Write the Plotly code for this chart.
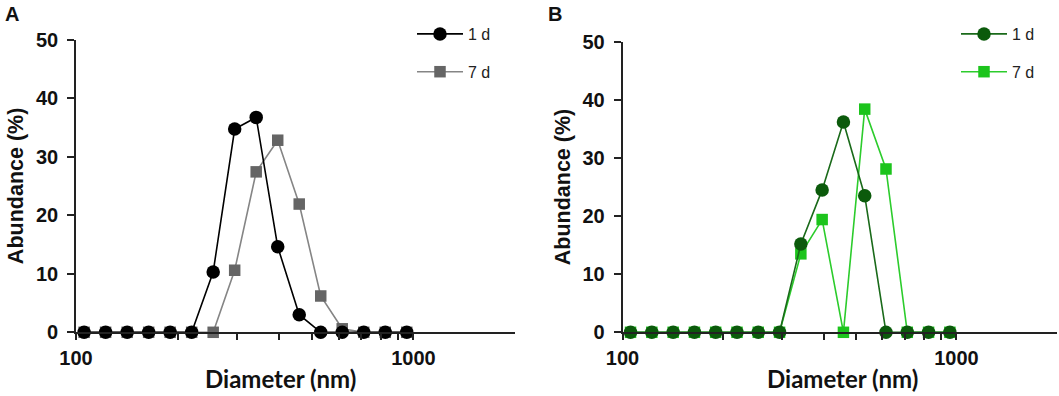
import plotly.graph_objects as go

# ---- data ----
diameter_nm = [105.7, 122.4, 141.8, 164.2, 190.1, 220.2, 255.0, 295.3,
               342.0, 396.1, 458.7, 531.2, 615.1, 712.4, 825.0, 955.4]
a_1d = [0, 0, 0, 0, 0, 0, 10.3, 34.7, 36.7, 14.6, 3.0, 0, 0, 0, 0, 0]
a_7d = [0, 0, 0, 0, 0, 0, 0, 10.6, 27.4, 32.8, 21.9, 6.2, 0.6, 0, 0, 0]
b_1d = [0, 0, 0, 0, 0, 0, 0, 0, 15.2, 24.5, 36.2, 23.5, 0, 0, 0, 0]
b_7d = [0, 0, 0, 0, 0, 0, 0, 0, 13.5, 19.4, 0, 38.4, 28.1, 0, 0, 0]

series_names = ["1 d", "7 d"]
x_tick_vals = [100, 200, 300, 400, 500, 600, 700, 800, 900, 1000]
x_tick_text = ["100", "", "", "", "", "", "", "", "", "1000"]
y_tick_vals = [0, 10, 20, 30, 40, 50]
x_title = "Diameter (nm)"
y_title = "Abundance (%)"
panel_labels = ["A", "B"]

W, H = 1059, 396
TICK_FONT = dict(family="Liberation Sans, Arial", size=20, color="#111", weight="bold")
AXIS_COLOR = "#222"

fig = go.Figure()

def add(x, y, name, color, line_color, symbol, size, xa, ya, legend, rank):
    fig.add_trace(go.Scatter(
        x=x, y=y, name=name, mode="lines+markers",
        line=dict(color=line_color, width=1.6),
        marker=dict(color=color, symbol=symbol, size=size, line=dict(width=0)),
        xaxis=xa, yaxis=ya, legend=legend, legendrank=rank,
        legendgroup=legend + name, cliponaxis=False,
    ))

# draw 7 d first so 1 d sits on top; legend order fixed by rank
add(diameter_nm, a_7d, series_names[1], "#656565", "#858585", "square", 11.5, "x", "y", "legend", 2)
add(diameter_nm, a_1d, series_names[0], "#000000", "#000000", "circle", 13.5, "x", "y", "legend", 1)
add(diameter_nm, b_7d, series_names[1], "#1cc41c", "#2ccc2c", "square", 11.5, "x2", "y2", "legend2", 2)
add(diameter_nm, b_1d, series_names[0], "#0b5a0b", "#1a6a1a", "circle", 13.5, "x2", "y2", "legend2", 1)

def xaxis(domain, anchor):
    return dict(domain=domain, anchor=anchor, type="log", range=[2, 3.301],
                tickvals=x_tick_vals, ticktext=x_tick_text, ticks="outside",
                ticklen=6, tickwidth=1.5, tickcolor=AXIS_COLOR,
                showline=True, linecolor=AXIS_COLOR, linewidth=1.6,
                showgrid=False, zeroline=False, tickfont=TICK_FONT,
                ticklabelstandoff=1, automargin=False)

def yaxis(domain, anchor):
    return dict(domain=domain, anchor=anchor, range=[0, 50],
                tickvals=y_tick_vals, ticks="outside", ticklen=7, tickwidth=1.6,
                tickcolor=AXIS_COLOR, showline=True, linecolor=AXIS_COLOR,
                linewidth=1.6, showgrid=False, zeroline=False, tickfont=TICK_FONT,
                ticklabelstandoff=5, automargin=False,
                title=dict(text=y_title, standoff=6,
                           font=dict(family="Liberation Sans, Arial", size=21.5,
                                     color="#111", weight="bold")))

ax_a = [76 / W, 515 / W]
ax_b = [622.5 / W, 1057 / W]
ay_a = [1 - 332.3 / H, 1 - 39.5 / H]
ay_b = [1 - 332.3 / H, 1 - 41.7 / H]

legend_style = dict(xanchor="left", yanchor="top", bgcolor="rgba(0,0,0,0)",
                    font=dict(family="Liberation Sans, Arial", size=16, color="#222"),
                    itemwidth=46, tracegroupgap=14, traceorder="grouped")

fig.update_layout(
    width=W, height=H, margin=dict(l=0, r=0, t=0, b=0, autoexpand=False),
    paper_bgcolor="white", plot_bgcolor="white",
    xaxis=xaxis(ax_a, "y"), yaxis=yaxis(ay_a, "x"),
    xaxis2=xaxis(ax_b, "y2"), yaxis2=yaxis(ay_b, "x2"),
    legend=dict(x=412 / W, y=1 - 17 / H, **legend_style),
    legend2=dict(x=956 / W, y=1 - 17 / H, **legend_style),
    showlegend=True,
)

title_font = dict(family="Lato, Open Sans", size=24, color="#111", weight="bold")
for cx in (280, 842):
    fig.add_annotation(text=x_title, x=cx / W, y=1 - 378 / H, xref="paper", yref="paper",
                       xanchor="center", yanchor="middle", showarrow=False, font=title_font)

for lbl, px in zip(panel_labels, (3, 546)):
    fig.add_annotation(text=lbl, x=px / W, y=1 - 1 / H, xref="paper", yref="paper",
                       xanchor="left", yanchor="top", showarrow=False,
                       font=dict(family="Liberation Sans, Arial", size=20, color="#111",
                                 weight="bold"))

fig.write_html(
    "out.html",
    config={"displayModeBar": False},
    post_script="document.body.style.margin='0';document.body.style.overflow='hidden';",
)
